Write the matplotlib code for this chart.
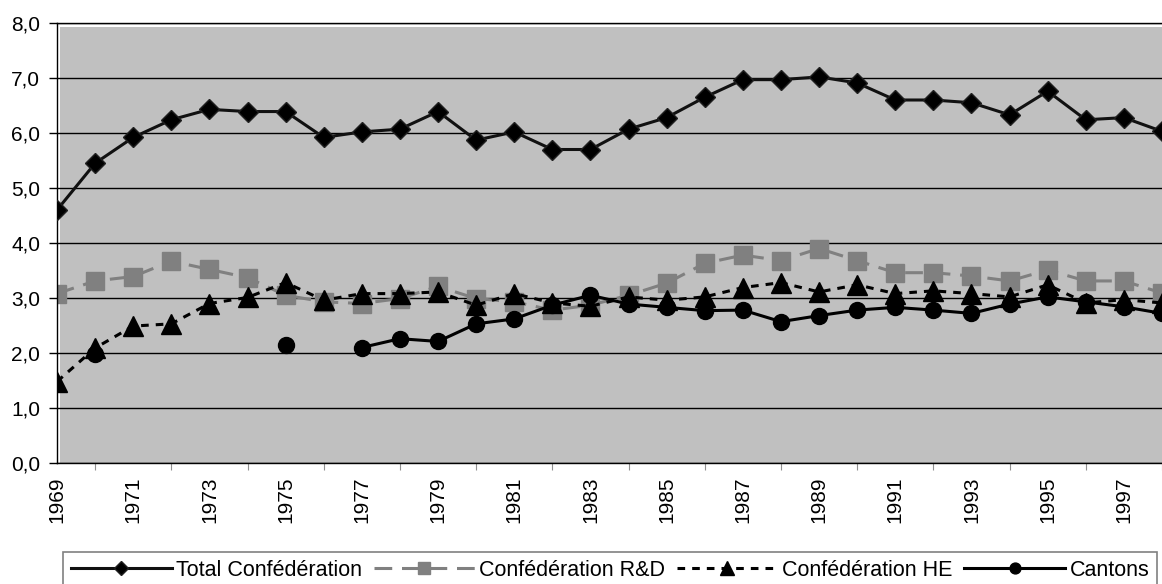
import numpy as np
import matplotlib
matplotlib.use("Agg")
import matplotlib.pyplot as plt
from matplotlib.patches import Rectangle

plt.rcParams['font.family'] = ['Liberation Sans', 'DejaVu Sans']

years = list(range(1969, 1999))

total_conf = [4.60, 5.45, 5.92, 6.24, 6.43, 6.39, 6.39, 5.92, 6.02, 6.07,
              6.39, 5.87, 6.02, 5.70, 5.70, 6.07, 6.28, 6.65, 6.97, 6.97,
              7.02, 6.91, 6.60, 6.60, 6.55, 6.33, 6.76, 6.24, 6.28, 6.03]

conf_rd = [3.08, 3.31, 3.39, 3.67, 3.52, 3.37, 3.05, 2.93, 2.90, 2.99,
           3.21, 2.99, 2.93, 2.78, 2.87, 3.05, 3.27, 3.63, 3.78, 3.68,
           3.90, 3.68, 3.46, 3.46, 3.40, 3.31, 3.51, 3.31, 3.31, 3.09]

conf_he = [1.48, 2.09, 2.49, 2.53, 2.90, 3.01, 3.28, 2.96, 3.08, 3.08,
           3.11, 2.87, 3.08, 2.91, 2.85, 3.02, 2.96, 3.02, 3.19, 3.28,
           3.11, 3.24, 3.08, 3.13, 3.08, 3.02, 3.24, 2.91, 2.97, 2.91]

cantons = [np.nan, 1.99, np.nan, np.nan, np.nan, np.nan, 2.15, np.nan, 2.10, 2.26,
           2.21, 2.53, 2.62, 2.87, 3.05, 2.89, 2.83, 2.77, 2.78, 2.57,
           2.68, 2.78, 2.83, 2.78, 2.72, 2.89, 3.02, 2.93, 2.84, 2.72]

series_labels = ["Total Confédération", "Confédération R&D",
                 "Confédération HE", "Cantons"]
ytick_values = [0, 1, 2, 3, 4, 5, 6, 7, 8]
ytick_labels = ["0,0", "1,0", "2,0", "3,0", "4,0", "5,0", "6,0", "7,0", "8,0"]
xtick_years = list(range(1969, 1998, 2))

W, H = 1162, 584
fig = plt.figure(figsize=(W / 100, H / 100), dpi=100)
left, right, top, bottom = 57, 1162, 23, 463
ax = fig.add_axes([left / W, 1 - bottom / H, (right - left) / W, (bottom - top) / H])
ax.set_facecolor('white')
ax.add_patch(Rectangle((2.5 / (right - left), 0), 1, 1 - 3.5 / (bottom - top),
                       transform=ax.transAxes, facecolor='#C0C0C0',
                       edgecolor='none', zorder=0.1))

lw = 2.2
ax.plot(years, total_conf, color='#111111', lw=lw, marker='D', markersize=10.5,
        markerfacecolor='#000000', markeredgecolor='#202020', markeredgewidth=1,
        label=series_labels[0], zorder=3)
ax.plot(years, conf_rd, color='#808080', lw=lw, linestyle=(0, (5.8, 3.2)),
        marker='s', markersize=12.5, markerfacecolor='#808080', markeredgecolor='#808080',
        label=series_labels[1], zorder=2)
ax.plot(years, conf_he, color='#000000', lw=lw, linestyle=(0, (2.5, 2.3)),
        marker='^', markersize=14.5, markerfacecolor='#000000', markeredgecolor='#000000',
        label=series_labels[2], zorder=4)
ax.plot(years, cantons, color='#000000', lw=lw, marker='o', markersize=11.5,
        markerfacecolor='#000000', markeredgecolor='#000000',
        label=series_labels[3], zorder=3)

ax.set_xlim(1969, 1998.0)
ax.set_ylim(0, 8)
ax.set_yticks(ytick_values)
ax.set_yticklabels(ytick_labels)
ax.set_xticks(xtick_years)
ax.set_xticklabels([str(y) for y in xtick_years], rotation=90)
ax.set_xticks(years, minor=True)

ax.yaxis.grid(True, color='black', lw=1.0)
ax.set_axisbelow(True)
for gl in ax.yaxis.get_gridlines():
    gl.set_zorder(0.5)

ax.spines['right'].set_visible(False)
ax.spines['top'].set_visible(True)
for s in ['left', 'bottom', 'top']:
    ax.spines[s].set_color('black')
    ax.spines[s].set_linewidth(1.0)

ax.tick_params(axis='y', direction='out', length=6, width=1, pad=6, labelsize=15, colors='black')
ax.tick_params(axis='x', which='major', length=0, pad=10, labelsize=15, colors='black')
ax.tick_params(axis='x', which='minor', direction='out', length=5, width=0.8, color='#909090')

leg = fig.legend(loc='upper left',
                 bbox_to_anchor=(63 / W, -0.2, (1157 - 63) / W, 0.2 + (H - 552) / H),
                 mode='expand', ncol=4, fontsize=15.5, frameon=True, fancybox=False,
                 handlelength=4.7, handletextpad=0.2, columnspacing=0.5,
                 borderpad=0.35, borderaxespad=0, markerscale=0.68)
leg.get_frame().set_edgecolor('#606060')
leg.get_frame().set_linewidth(1.2)

fig.savefig('out.png', dpi=100)
